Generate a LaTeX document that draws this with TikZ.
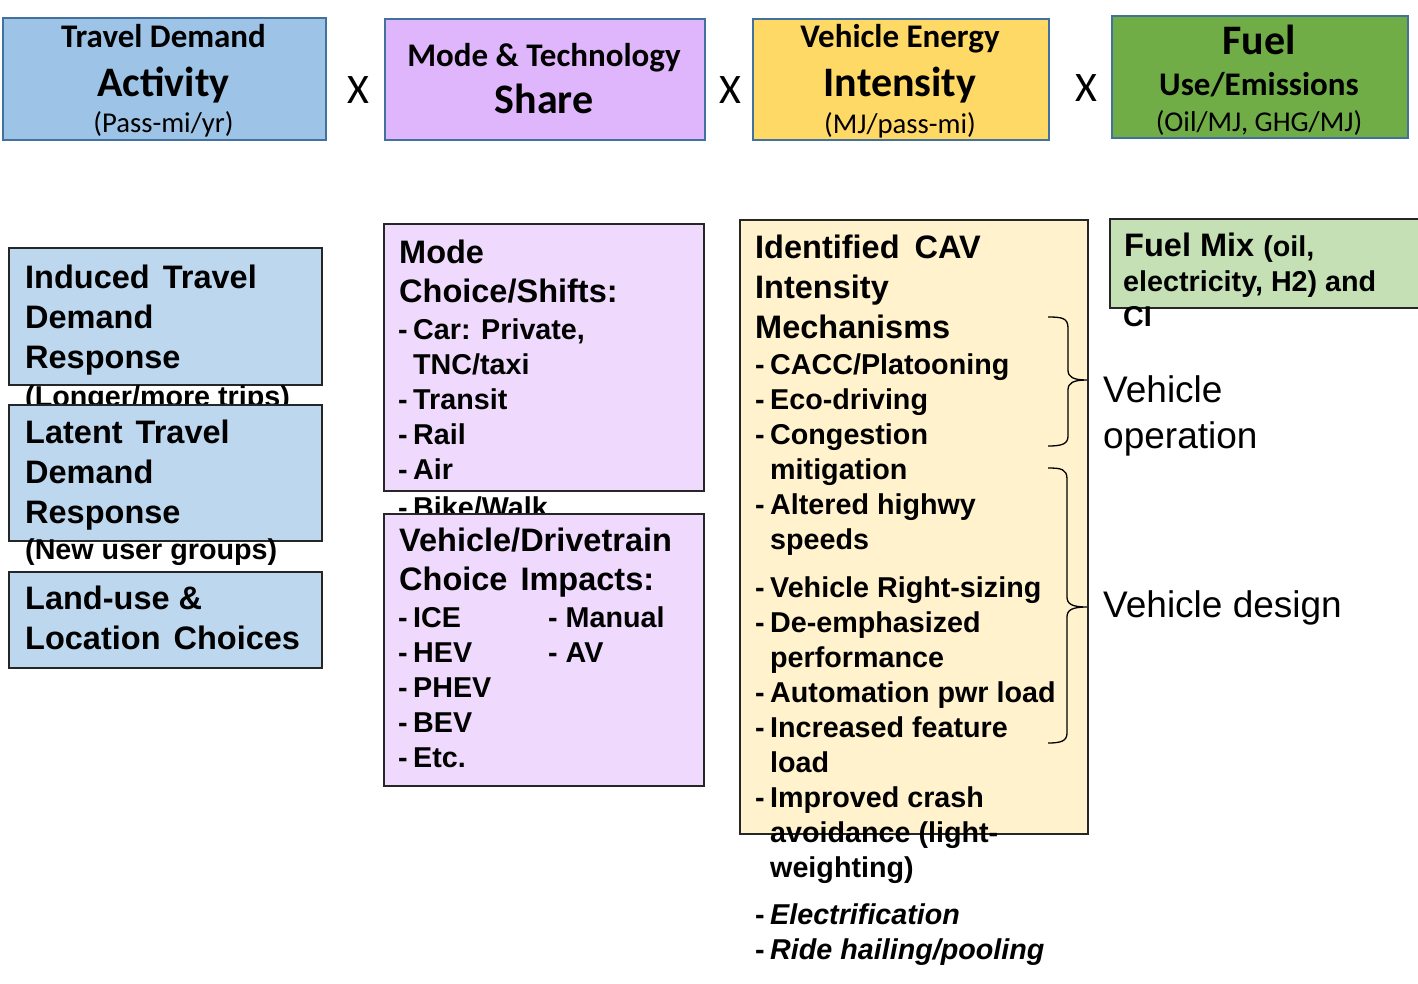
\documentclass[tikz,border=0pt]{standalone}
\usepackage{fontspec}
\setmainfont{Liberation Sans}
\newfontfamily\hdr{Carlito}
\definecolor{hborder}{HTML}{41719C}
\definecolor{dborder}{HTML}{262626}
\definecolor{tdblue}{HTML}{9DC3E6}
\definecolor{mtpurple}{HTML}{DFB5FC}
\definecolor{veyellow}{HTML}{FFD966}
\definecolor{fugreen}{HTML}{70AD47}
\definecolor{lblue}{HTML}{BDD7EE}
\definecolor{llav}{HTML}{EFD9FC}
\definecolor{lyellow}{HTML}{FFF2CC}
\definecolor{lgreen}{HTML}{C5E0B4}
\newcommand\txtline[3]{\node[txt] (#1) at (#2) {#3};}
\newcommand\hsmall{\hdr\fontsize{28.7}{30}\selectfont}
\newcommand\hmid{\hdr\bfseries\fontsize{33}{34}\selectfont}
\newcommand\hlarge{\hdr\bfseries\fontsize{42}{44}\selectfont}
\newcommand\bhead{\bfseries\fontsize{32.5}{40}\selectfont}
\newcommand\bitem{\bfseries\fontsize{28.7}{35}\selectfont}
\newcommand\dsh{\makebox[15pt][l]{-}}
\begin{document}
\begin{tikzpicture}[x=1pt,y=-1pt,
  hbox/.style={draw=hborder,line width=1.6pt,inner sep=0pt,anchor=north west},
  dbox/.style={draw=dborder,line width=1.6pt,inner sep=0pt,anchor=north west},
  txt/.style={anchor=base west,inner sep=0pt},
  ctxt/.style={anchor=base,inner sep=0pt},
  brace/.style={draw=black,line width=1.3pt}]
\useasboundingbox (0,0) rectangle (1418,983);
% ---------- top row ----------
\node[hbox,fill=tdblue,minimum width=323pt,minimum height=122pt] (tda) at (2,17) {};
\node[ctxt] (tda1) at (163.5,47) {\hmid Travel Demand};
\node[ctxt] (tda2) at (163.5,96) {\hlarge Activity};
\node[ctxt] (tda3) at (163.5,132) {\hsmall (Pass-mi/yr)};
\node[ctxt] (x1) at (358,103) {\hdr\fontsize{42}{42}\selectfont X};
\node[hbox,fill=mtpurple,minimum width=320pt,minimum height=121pt] (mts) at (384,18) {};
\node[ctxt] (mts1) at (544,66) {\hmid Mode \& Technology};
\node[ctxt] (mts2) at (544,113) {\hlarge Share};
\node[ctxt] (x2) at (730,103) {\hdr\fontsize{42}{42}\selectfont X};
\node[hbox,fill=veyellow,minimum width=296pt,minimum height=121pt] (vei) at (752,18) {};
\node[ctxt] (vei1) at (900,47) {\hmid Vehicle Energy};
\node[ctxt] (vei2) at (900,96) {\hlarge Intensity};
\node[ctxt] (vei3) at (900,133) {\hsmall (MJ/pass-mi)};
\node[ctxt] (x3) at (1086,101) {\hdr\fontsize{42}{42}\selectfont X};
\node[hbox,fill=fugreen,minimum width=296pt,minimum height=122pt] (fue) at (1111,15) {};
\node[ctxt] (fue1) at (1259,54) {\hlarge Fuel};
\node[ctxt] (fue2) at (1259,95) {\hmid Use/Emissions};
\node[ctxt] (fue3) at (1259,131) {\hsmall (Oil/MJ, GHG/MJ)};
% ---------- left column ----------
\node[dbox,fill=lblue,minimum width=313pt,minimum height=137pt] (ind) at (8,247) {};
\txtline{ind1}{25,288}{\bhead Induced\hspace{4pt} Travel}
\txtline{ind2}{25,328}{\bhead Demand}
\txtline{ind3}{25,368}{\bhead Response}
\txtline{ind4}{25,406}{\bitem (Longer/more trips)}
\node[dbox,fill=lblue,minimum width=313pt,minimum height=136pt] (lat) at (8,404) {};
\txtline{lat1}{25,443}{\bhead Latent\hspace{4pt} Travel}
\txtline{lat2}{25,483}{\bhead Demand}
\txtline{lat3}{25,523}{\bhead Response}
\txtline{lat4}{25,559}{\bitem (New user groups)}
\node[dbox,fill=lblue,minimum width=313pt,minimum height=96pt] (lan) at (8,571) {};
\txtline{lan1}{25,609}{\bhead Land-use \&}
\txtline{lan2}{25,649}{\bhead Location\hspace{4pt} Choices}
% ---------- middle column ----------
\node[dbox,fill=llav,minimum width=320pt,minimum height=267pt] (mod) at (383,223) {};
\txtline{mod1}{399,263}{\bhead Mode}
\txtline{mod2}{399,302}{\bhead Choice/Shifts:}
\txtline{mod3}{398,339}{\bitem\dsh Car: Private,}
\txtline{mod4}{413,374}{\bitem TNC/taxi}
\txtline{mod5}{398,409}{\bitem\dsh Transit}
\txtline{mod6}{398,444}{\bitem\dsh Rail}
\txtline{mod7}{398,479}{\bitem\dsh Air}
\txtline{mod8}{398,517}{\bitem\dsh Bike/Walk}
\node[dbox,fill=llav,minimum width=320pt,minimum height=272pt] (veh) at (383,513) {};
\txtline{veh1}{399,551}{\bhead Vehicle/Drivetrain}
\txtline{veh2}{399,590}{\bhead Choice\hspace{4pt} Impacts:}
\txtline{veh3}{398,627}{\bitem\dsh ICE}
\txtline{veh4}{548,627}{\bitem - Manual}
\txtline{veh5}{398,662}{\bitem\dsh HEV}
\txtline{veh6}{548,662}{\bitem - AV}
\txtline{veh7}{398,697}{\bitem\dsh PHEV}
\txtline{veh8}{398,732}{\bitem\dsh BEV}
\txtline{veh9}{398,767}{\bitem\dsh Etc.}
% ---------- right column ----------
\node[dbox,fill=lyellow,minimum width=348pt,minimum height=614pt] (cav) at (739,219) {};
\txtline{cav1}{755,258}{\bhead Identified\hspace{6pt} CAV}
\txtline{cav2}{755,298}{\bhead Intensity}
\txtline{cav3}{755,338}{\bhead Mechanisms}
\txtline{cav4}{755,374}{\bitem\dsh CACC/Platooning}
\txtline{cav5}{755,409}{\bitem\dsh Eco-driving}
\txtline{cav6}{755,444}{\bitem\dsh Congestion}
\txtline{cav7}{770,479}{\bitem mitigation}
\txtline{cav8}{755,514}{\bitem\dsh Altered highwy}
\txtline{cav9}{770,549}{\bitem speeds}
\txtline{cav10}{755,597}{\bitem\dsh Vehicle Right-sizing}
\txtline{cav11}{755,632}{\bitem\dsh De-emphasized}
\txtline{cav12}{770,667}{\bitem performance}
\txtline{cav13}{755,702}{\bitem\dsh Automation pwr load}
\txtline{cav14}{755,737}{\bitem\dsh Increased feature}
\txtline{cav15}{770,772}{\bitem load}
\txtline{cav16}{755,807}{\bitem\dsh Improved crash}
\txtline{cav17}{770,842}{\bitem avoidance (light-}
\txtline{cav18}{770,877}{\bitem weighting)}
\txtline{cav19}{755,924}{\bitem\dsh\itshape Electrification}
\txtline{cav20}{755,959}{\bitem\dsh\itshape Ride hailing/pooling}
% ---------- fuel mix ----------
\node[dbox,fill=lgreen,minimum width=330pt,minimum height=89pt] (mix) at (1109,218) {};
\txtline{mix1}{1124,256}{\bhead Fuel Mix {\bitem (oil,}}
\txtline{mix2}{1123,291}{\bitem electricity, H2) and}
\txtline{mix3}{1123,326}{\bitem CI}
% ---------- braces ----------
\draw[brace] (1048,317) .. controls (1062,317) and (1068,318) .. (1068,328) -- (1068,370)
  .. controls (1068,377) and (1073,380) .. (1087,380)
  .. controls (1073,380) and (1068,383) .. (1068,390) -- (1068,436)
  .. controls (1068,444) and (1062,446) .. (1048,446);
\draw[brace] (1048,468) .. controls (1061,468) and (1067,469) .. (1067,479) -- (1067,597)
  .. controls (1067,604) and (1072,607) .. (1087,607)
  .. controls (1072,607) and (1067,610) .. (1067,617) -- (1067,733)
  .. controls (1067,741) and (1061,743) .. (1048,743);
\node[txt] (vop1) at (1103,402) {\fontsize{37}{46}\selectfont Vehicle};
\node[txt] (vop2) at (1103,448) {\fontsize{37}{46}\selectfont operation};
\node[txt] (vdes) at (1103,617) {\fontsize{37}{46}\selectfont Vehicle design};
\end{tikzpicture}
\end{document}
